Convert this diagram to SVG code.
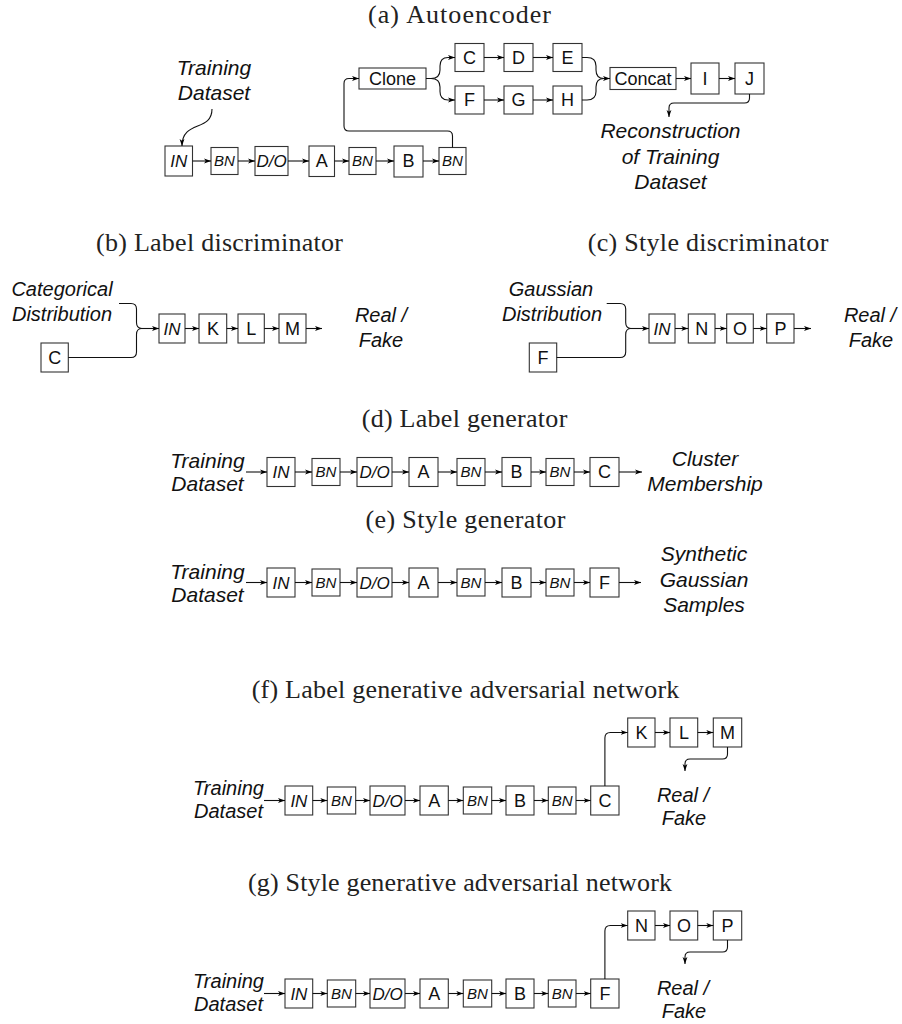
<svg xmlns="http://www.w3.org/2000/svg" width="902" height="1024" viewBox="0 0 902 1024">
<defs>
<marker id="ah" markerUnits="userSpaceOnUse" markerWidth="7" markerHeight="6" viewBox="0 0 7 6" refX="7" refY="3" orient="auto"><path d="M0,0.6 L7,3 L0,5.4 L1.8,3 z" fill="#000"/></marker>
<style>
.bx{fill:#fff;stroke:#333;stroke-width:1.1}
.l{font-family:"Liberation Sans",Arial,sans-serif;font-size:18px;text-anchor:middle;fill:#111}
.i{font-style:italic;font-size:17px}
.s{font-style:italic;font-size:15px}
.t{font-family:"Liberation Sans",Arial,sans-serif;font-style:italic;font-size:21px;text-anchor:middle;fill:#111}
.t2{font-size:20px}
.ti{font-family:"Liberation Serif","Times New Roman",serif;font-size:26px;fill:#222}
.c{fill:none;stroke:#111;stroke-width:1.1}
.a{marker-end:url(#ah)}
</style>
</defs>
<rect width="902" height="1024" fill="#fff"/>

<g id="titles">
<text class="ti" x="368" y="23" textLength="183">(a) Autoencoder</text>
<text class="ti" x="96" y="251" textLength="247">(b) Label discriminator</text>
<text class="ti" x="587.7" y="251" textLength="240.6">(c) Style discriminator</text>
<text class="ti" x="361.7" y="427" textLength="205.6">(d) Label generator</text>
<text class="ti" x="365.6" y="528" textLength="199.7">(e) Style generator</text>
<text class="ti" x="251.7" y="698" textLength="427.6">(f) Label generative adversarial network</text>
<text class="ti" x="248" y="891" textLength="424">(g) Style generative adversarial network</text>
</g>

<!-- (a) Autoencoder -->
<g id="a-input"><text class="t" x="214" y="75">Training</text><text class="t" x="214" y="100">Dataset</text></g>
<g id="a-in"><rect class="bx" x="165" y="146" width="27.5" height="30"/><text class="l i" x="178.8" y="167.1">IN</text></g>
<g id="a-bn1"><rect class="bx" x="211" y="147.5" width="27" height="27"/><text class="l s" x="224.5" y="166.4">BN</text></g>
<g id="a-do"><rect class="bx" x="255" y="146.5" width="33" height="29"/><text class="l i" x="271.5" y="167.1">D/O</text></g>
<g id="a-a"><rect class="bx" x="309" y="146" width="25.5" height="30.5"/><text class="l" x="321.8" y="167.4">A</text></g>
<g id="a-bn2"><rect class="bx" x="349" y="147.5" width="27" height="27"/><text class="l s" x="362.5" y="166.4">BN</text></g>
<g id="a-b"><rect class="bx" x="394" y="146" width="29" height="31"/><text class="l" x="408.5" y="167.4">B</text></g>
<g id="a-bn3"><rect class="bx" x="439" y="147.5" width="27" height="27"/><text class="l s" x="452.5" y="166.4">BN</text></g>
<g id="a-clone"><rect class="bx" x="359" y="68" width="67" height="21"/><text class="l" x="392.5" y="84.9">Clone</text></g>
<g id="a-c"><rect class="bx" x="455" y="43.5" width="29" height="28"/><text class="l" x="469.5" y="63.9">C</text></g>
<g id="a-d"><rect class="bx" x="504" y="43.5" width="29" height="28"/><text class="l" x="518.5" y="63.9">D</text></g>
<g id="a-e"><rect class="bx" x="553" y="43.5" width="29" height="28"/><text class="l" x="567.5" y="63.9">E</text></g>
<g id="a-f"><rect class="bx" x="455" y="86" width="29" height="28"/><text class="l" x="469.5" y="106.4">F</text></g>
<g id="a-g"><rect class="bx" x="504" y="86" width="29" height="28"/><text class="l" x="518.5" y="106.4">G</text></g>
<g id="a-h"><rect class="bx" x="553" y="86" width="29" height="28"/><text class="l" x="567.5" y="106.4">H</text></g>
<g id="a-concat"><rect class="bx" x="610" y="67.5" width="66" height="22"/><text class="l" x="643" y="84.9">Concat</text></g>
<g id="a-i"><rect class="bx" x="691" y="63" width="28" height="31"/><text class="l" x="705" y="84.9">I</text></g>
<g id="a-j"><rect class="bx" x="735" y="63" width="29" height="31"/><text class="l" x="749.5" y="84.9">J</text></g>
<g id="a-output"><text class="t" x="670.5" y="138">Reconstruction</text><text class="t" x="670.5" y="164">of Training</text><text class="t" x="670.5" y="189">Dataset</text></g>

<!-- (b) Label discriminator -->
<g id="b-input"><text class="t t2" x="62" y="296">Categorical</text><text class="t t2" x="62" y="321">Distribution</text></g>
<g id="b-c"><rect class="bx" x="41" y="343" width="27.3" height="29"/><text class="l" x="54.7" y="363.9">C</text></g>
<g id="b-in"><rect class="bx" x="159" y="314" width="26" height="29"/><text class="l i" x="172" y="334.6">IN</text></g>
<g id="b-k"><rect class="bx" x="199" y="314" width="27.7" height="29"/><text class="l" x="212.9" y="334.9">K</text></g>
<g id="b-l"><rect class="bx" x="238" y="314" width="26.3" height="29"/><text class="l" x="251.2" y="334.9">L</text></g>
<g id="b-m"><rect class="bx" x="279" y="314" width="27" height="29"/><text class="l" x="292.5" y="334.9">M</text></g>
<g id="b-output"><text class="t t2" x="381" y="322">Real /</text><text class="t t2" x="381" y="347">Fake</text></g>

<!-- (c) Style discriminator -->
<g id="c-input"><text class="t t2" x="551" y="296">Gaussian</text><text class="t t2" x="552" y="321">Distribution</text></g>
<g id="c-f"><rect class="bx" x="529.3" y="343" width="27.4" height="29"/><text class="l" x="543" y="363.9">F</text></g>
<g id="c-in"><rect class="bx" x="649" y="314" width="26" height="29"/><text class="l i" x="662" y="334.6">IN</text></g>
<g id="c-n"><rect class="bx" x="688.3" y="314" width="26.7" height="29"/><text class="l" x="701.7" y="334.9">N</text></g>
<g id="c-o"><rect class="bx" x="726.7" y="314" width="26.6" height="29"/><text class="l" x="740" y="334.9">O</text></g>
<g id="c-p"><rect class="bx" x="766.7" y="314" width="27.3" height="29"/><text class="l" x="780.4" y="334.9">P</text></g>
<g id="c-output"><text class="t t2" x="870" y="322">Real /</text><text class="t t2" x="871" y="347">Fake</text></g>

<!-- (d) Label generator -->
<g id="d-input"><text class="t" x="207.5" y="468">Training</text><text class="t" x="207.5" y="491">Dataset</text></g>
<g id="d-in"><rect class="bx" x="267" y="457.5" width="28" height="29"/><text class="l i" x="281" y="478.1">IN</text></g>
<g id="d-bn1"><rect class="bx" x="312" y="458.5" width="28" height="27"/><text class="l s" x="326" y="477.4">BN</text></g>
<g id="d-do"><rect class="bx" x="357" y="457.5" width="35" height="29"/><text class="l i" x="374.5" y="478.1">D/O</text></g>
<g id="d-a"><rect class="bx" x="409" y="457.5" width="29" height="29"/><text class="l" x="423.5" y="478.4">A</text></g>
<g id="d-bn2"><rect class="bx" x="457" y="458.5" width="28" height="27"/><text class="l s" x="471" y="477.4">BN</text></g>
<g id="d-b"><rect class="bx" x="502" y="457.5" width="29" height="29"/><text class="l" x="516.5" y="478.4">B</text></g>
<g id="d-bn3"><rect class="bx" x="546" y="458.5" width="28" height="27"/><text class="l s" x="560" y="477.4">BN</text></g>
<g id="d-c"><rect class="bx" x="590" y="457.5" width="29" height="29"/><text class="l" x="604.5" y="478.4">C</text></g>
<g id="d-output"><text class="t" x="705" y="466">Cluster</text><text class="t" x="705" y="491">Membership</text></g>

<!-- (e) Style generator -->
<g id="e-input"><text class="t" x="207.5" y="578.5">Training</text><text class="t" x="207.5" y="601.5">Dataset</text></g>
<g id="e-in"><rect class="bx" x="267" y="568" width="28" height="29"/><text class="l i" x="281" y="588.6">IN</text></g>
<g id="e-bn1"><rect class="bx" x="312" y="569" width="28" height="27"/><text class="l s" x="326" y="587.9">BN</text></g>
<g id="e-do"><rect class="bx" x="357" y="568" width="35" height="29"/><text class="l i" x="374.5" y="588.6">D/O</text></g>
<g id="e-a"><rect class="bx" x="409" y="568" width="29" height="29"/><text class="l" x="423.5" y="588.9">A</text></g>
<g id="e-bn2"><rect class="bx" x="457" y="569" width="28" height="27"/><text class="l s" x="471" y="587.9">BN</text></g>
<g id="e-b"><rect class="bx" x="502" y="568" width="29" height="29"/><text class="l" x="516.5" y="588.9">B</text></g>
<g id="e-bn3"><rect class="bx" x="546" y="569" width="28" height="27"/><text class="l s" x="560" y="587.9">BN</text></g>
<g id="e-f"><rect class="bx" x="590" y="568" width="29" height="29"/><text class="l" x="604.5" y="588.9">F</text></g>
<g id="e-output"><text class="t" x="704" y="561">Synthetic</text><text class="t" x="704" y="586.5">Gaussian</text><text class="t" x="704" y="612">Samples</text></g>

<!-- (f) Label GAN -->
<g id="f-input"><text class="t t2" x="228.5" y="795">Training</text><text class="t t2" x="228.5" y="818">Dataset</text></g>
<g id="f-in"><rect class="bx" x="285" y="786" width="27.7" height="29"/><text class="l i" x="298.9" y="806.6">IN</text></g>
<g id="f-bn1"><rect class="bx" x="327.3" y="787" width="28.4" height="27"/><text class="l s" x="341.5" y="805.9">BN</text></g>
<g id="f-do"><rect class="bx" x="370" y="786" width="35" height="29"/><text class="l i" x="387.5" y="806.6">D/O</text></g>
<g id="f-a"><rect class="bx" x="420" y="786" width="28.3" height="29"/><text class="l" x="434.2" y="806.9">A</text></g>
<g id="f-bn2"><rect class="bx" x="463.3" y="787" width="28.4" height="27"/><text class="l s" x="477.5" y="805.9">BN</text></g>
<g id="f-b"><rect class="bx" x="506" y="786" width="28" height="29"/><text class="l" x="520" y="806.9">B</text></g>
<g id="f-bn3"><rect class="bx" x="548.3" y="787" width="27.7" height="27"/><text class="l s" x="562.2" y="805.9">BN</text></g>
<g id="f-c"><rect class="bx" x="590.7" y="786" width="28.3" height="29"/><text class="l" x="604.9" y="806.9">C</text></g>
<g id="f-k"><rect class="bx" x="627.7" y="718" width="27.3" height="29"/><text class="l" x="641.4" y="738.9">K</text></g>
<g id="f-l"><rect class="bx" x="670" y="718" width="27.7" height="29"/><text class="l" x="683.9" y="738.9">L</text></g>
<g id="f-m"><rect class="bx" x="713.3" y="718" width="28.4" height="29"/><text class="l" x="727.5" y="738.9">M</text></g>
<g id="f-output"><text class="t t2" x="683" y="802">Real /</text><text class="t t2" x="684" y="825">Fake</text></g>

<!-- (g) Style GAN -->
<g id="g-input"><text class="t t2" x="228.5" y="988">Training</text><text class="t t2" x="228.5" y="1011">Dataset</text></g>
<g id="g-in"><rect class="bx" x="285" y="979" width="27.7" height="29"/><text class="l i" x="298.9" y="999.6">IN</text></g>
<g id="g-bn1"><rect class="bx" x="327.3" y="980" width="28.4" height="27"/><text class="l s" x="341.5" y="998.9">BN</text></g>
<g id="g-do"><rect class="bx" x="370" y="979" width="35" height="29"/><text class="l i" x="387.5" y="999.6">D/O</text></g>
<g id="g-a"><rect class="bx" x="420" y="979" width="28.3" height="29"/><text class="l" x="434.2" y="999.9">A</text></g>
<g id="g-bn2"><rect class="bx" x="463.3" y="980" width="28.4" height="27"/><text class="l s" x="477.5" y="998.9">BN</text></g>
<g id="g-b"><rect class="bx" x="506" y="979" width="28" height="29"/><text class="l" x="520" y="999.9">B</text></g>
<g id="g-bn3"><rect class="bx" x="548.3" y="980" width="27.7" height="27"/><text class="l s" x="562.2" y="998.9">BN</text></g>
<g id="g-f"><rect class="bx" x="590.7" y="979" width="28.3" height="29"/><text class="l" x="604.9" y="999.9">F</text></g>
<g id="g-n"><rect class="bx" x="627.7" y="911" width="27.3" height="29"/><text class="l" x="641.4" y="931.9">N</text></g>
<g id="g-o"><rect class="bx" x="670" y="911" width="27.7" height="29"/><text class="l" x="683.9" y="931.9">O</text></g>
<g id="g-p"><rect class="bx" x="713.3" y="911" width="28.4" height="29"/><text class="l" x="727.5" y="931.9">P</text></g>
<g id="g-output"><text class="t t2" x="683" y="995">Real /</text><text class="t t2" x="684" y="1018">Fake</text></g>

<g id="connectors">
<!-- (a) -->
<path class="c a" d="M212,109 C212,132 182,120 182,146"/>
<path class="c a" d="M192.5,161 H211"/>
<path class="c a" d="M238,161 H255"/>
<path class="c a" d="M288,161 H309"/>
<path class="c a" d="M334.5,161 H349"/>
<path class="c a" d="M376,161 H394"/>
<path class="c a" d="M423,161 H439"/>
<path class="c a" d="M452.5,147.5 V136 Q452.5,131 447.5,131 H349 Q344,131 344,126 V83.5 Q344,78.5 349,78.5 H359"/>
<path class="c a" d="M426,78.5 H431 Q440,78.5 440,70 V66 Q440,57.5 448,57.5 H455"/>
<path class="c a" d="M426,78.5 H431 Q440,78.5 440,87 V91.5 Q440,100 448,100 H455"/>
<path class="c a" d="M484,57.5 H504"/>
<path class="c a" d="M533,57.5 H553"/>
<path class="c a" d="M484,100 H504"/>
<path class="c a" d="M533,100 H553"/>
<path class="c a" d="M582,57.5 H587 Q596,57.5 596,66 V70 Q596,78.5 604,78.5 H610"/>
<path class="c" d="M582,100 H587 Q596,100 596,91.5 V87 Q596,78.5 604,78.5"/>
<path class="c a" d="M676,78.5 H691"/>
<path class="c a" d="M719,78.5 H735"/>
<path class="c a" d="M749.5,94 V98 Q749.5,103 744.5,103 H674 Q669,103 669,108 V117"/>
<!-- (b) -->
<path class="c" d="M119,303.5 H131 Q136.5,303.5 136.5,309 V322.5 Q136.5,328.5 142,328.5"/>
<path class="c" d="M68.3,357.5 H131 Q136.5,357.5 136.5,352 V334.5 Q136.5,328.5 142,328.5"/>
<path class="c a" d="M142,328.5 H159"/>
<path class="c a" d="M185,328.5 H199"/>
<path class="c a" d="M226.7,328.5 H238"/>
<path class="c a" d="M264.3,328.5 H279"/>
<path class="c a" d="M306,328.5 H322"/>
<!-- (c) -->
<path class="c" d="M606.7,303.5 H620 Q625.7,303.5 625.7,309 V322.5 Q625.7,328.5 631,328.5"/>
<path class="c" d="M556.7,357.5 H620 Q625.7,357.5 625.7,352 V334.5 Q625.7,328.5 631,328.5"/>
<path class="c a" d="M631,328.5 H649"/>
<path class="c a" d="M675,328.5 H688.3"/>
<path class="c a" d="M715,328.5 H726.7"/>
<path class="c a" d="M753.3,328.5 H766.7"/>
<path class="c a" d="M794,328.5 H811"/>
<!-- (d) -->
<path class="c a" d="M246,472 H267"/>
<path class="c a" d="M295,472 H312"/>
<path class="c a" d="M340,472 H357"/>
<path class="c a" d="M392,472 H409"/>
<path class="c a" d="M438,472 H457"/>
<path class="c a" d="M485,472 H502"/>
<path class="c a" d="M531,472 H546"/>
<path class="c a" d="M574,472 H590"/>
<path class="c a" d="M619,472 H642"/>
<!-- (e) -->
<path class="c a" d="M246,582.5 H267"/>
<path class="c a" d="M295,582.5 H312"/>
<path class="c a" d="M340,582.5 H357"/>
<path class="c a" d="M392,582.5 H409"/>
<path class="c a" d="M438,582.5 H457"/>
<path class="c a" d="M485,582.5 H502"/>
<path class="c a" d="M531,582.5 H546"/>
<path class="c a" d="M574,582.5 H590"/>
<path class="c a" d="M619,582.5 H641"/>
<!-- (f) -->
<path class="c a" d="M264,800.5 H285"/>
<path class="c a" d="M312.7,800.5 H327.3"/>
<path class="c a" d="M355.7,800.5 H370"/>
<path class="c a" d="M405,800.5 H420"/>
<path class="c a" d="M448.3,800.5 H463.3"/>
<path class="c a" d="M491.7,800.5 H506"/>
<path class="c a" d="M534,800.5 H548.3"/>
<path class="c a" d="M576,800.5 H590.7"/>
<path class="c a" d="M604.9,786 V738 Q604.9,732.5 610.4,732.5 H627.7"/>
<path class="c a" d="M655,732.5 H670"/>
<path class="c a" d="M697.7,732.5 H713.3"/>
<path class="c a" d="M727.5,747 V754 Q727.5,759 722.5,759 H690 Q685,759 685,764 V771"/>
<!-- (g) -->
<path class="c a" d="M264,993.5 H285"/>
<path class="c a" d="M312.7,993.5 H327.3"/>
<path class="c a" d="M355.7,993.5 H370"/>
<path class="c a" d="M405,993.5 H420"/>
<path class="c a" d="M448.3,993.5 H463.3"/>
<path class="c a" d="M491.7,993.5 H506"/>
<path class="c a" d="M534,993.5 H548.3"/>
<path class="c a" d="M576,993.5 H590.7"/>
<path class="c a" d="M604.9,979 V931 Q604.9,925.5 610.4,925.5 H627.7"/>
<path class="c a" d="M655,925.5 H670"/>
<path class="c a" d="M697.7,925.5 H713.3"/>
<path class="c a" d="M727.5,940 V947 Q727.5,952 722.5,952 H690 Q685,952 685,957 V964"/>
</g>
</svg>
